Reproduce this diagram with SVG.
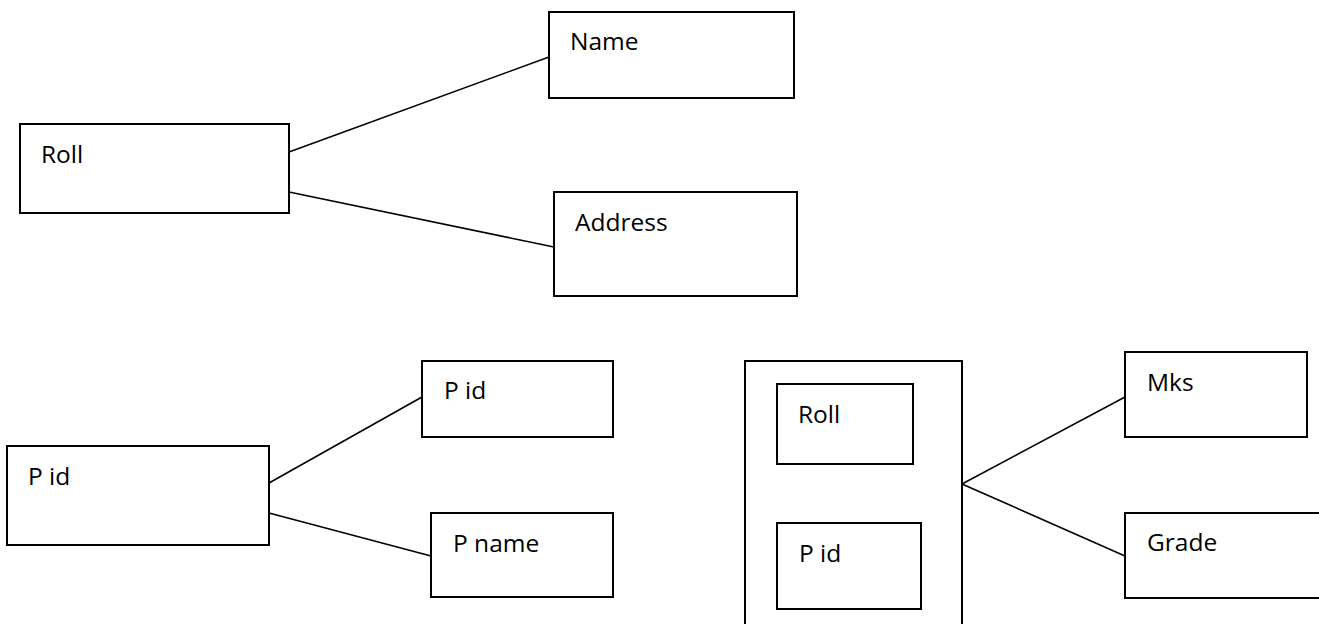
<svg xmlns="http://www.w3.org/2000/svg" width="1319" height="624" viewBox="0 0 1319 624">
<style>
.box{fill:#fff;stroke:#000;stroke-width:2}
.con line{stroke:#000;stroke-width:1.6}
text{font-family:"Open Sans","Noto Sans",sans-serif;font-size:24.5px;fill:#000}
</style>
<rect width="1319" height="624" fill="#fff"/>
<g id="connectors" class="con">
<line x1="289" y1="152" x2="549" y2="57"/>
<line x1="289" y1="192" x2="554" y2="247"/>
<line x1="269" y1="483" x2="422" y2="397"/>
<line x1="269" y1="513" x2="431" y2="556"/>
<line x1="962" y1="484" x2="1125" y2="397"/>
<line x1="962" y1="484" x2="1125" y2="556"/>
</g>
<g id="roll"><rect class="box" x="20" y="124" width="269" height="89"/><text x="41" y="163">Roll</text></g>
<g id="name"><rect class="box" x="549" y="12" width="245" height="86"/><text x="570" y="50">Name</text></g>
<g id="address"><rect class="box" x="554" y="192" width="243" height="104"/><text x="575" y="231">Address</text></g>
<g id="pid-left"><rect class="box" x="7" y="446" width="262" height="99"/><text x="28" y="485">P id</text></g>
<g id="pid-right"><rect class="box" x="422" y="361" width="191" height="76"/><text x="444" y="399">P id</text></g>
<g id="pname"><rect class="box" x="431" y="513" width="182" height="84"/><text x="453" y="552">P name</text></g>
<g id="composite"><rect class="box" x="745" y="361" width="217" height="270"/></g>
<g id="inner-roll"><rect class="box" x="777" y="384" width="136" height="80"/><text x="798" y="423">Roll</text></g>
<g id="inner-pid"><rect class="box" x="777" y="523" width="144" height="86"/><text x="799" y="562">P id</text></g>
<g id="mks"><rect class="box" x="1125" y="352" width="182" height="85"/><text x="1147" y="391">Mks</text></g>
<g id="grade"><rect class="box" x="1125" y="513" width="200" height="85"/><text x="1147" y="551">Grade</text></g>
</svg>
